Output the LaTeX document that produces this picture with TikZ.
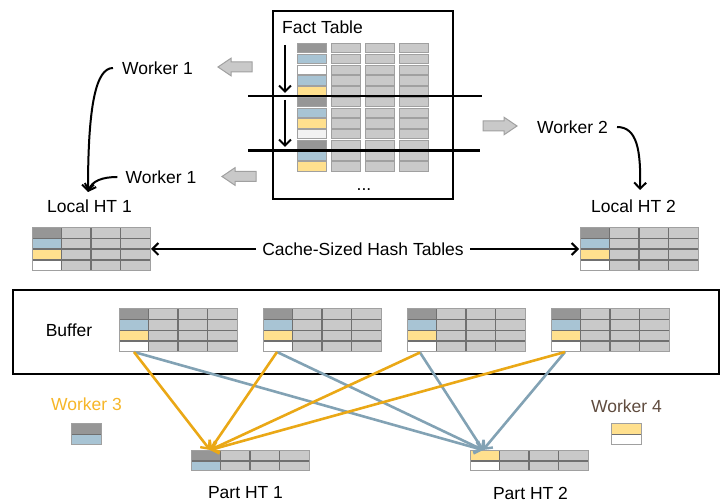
\documentclass[tikz,border=0pt]{standalone}
\usepackage{fontspec}
\setmainfont{Liberation Sans}
\usetikzlibrary{arrows.meta}
\definecolor{cg}{RGB}{201,201,201}
\definecolor{cgb}{RGB}{160,160,160}
\definecolor{cdk}{RGB}{150,150,150}
\definecolor{cbl}{RGB}{168,196,212}
\definecolor{cye}{RGB}{255,224,142}
\definecolor{cwh}{RGB}{255,255,255}
\definecolor{cwhb}{RGB}{242,242,242}
\definecolor{gridc}{RGB}{112,112,112}
\definecolor{lorange}{RGB}{234,168,22}
\definecolor{torange}{RGB}{246,182,40}
\definecolor{lblue}{RGB}{130,162,180}
\definecolor{tbrown}{RGB}{95,75,62}
\tikzset{
  lbl/.style={inner sep=0pt, font=\fontsize{17.5}{20}\selectfont},
  cell/.style={draw=cgb, fill=cg, line width=0.9pt},
  gridl/.style={draw=gridc, line width=1.5pt},
  outerl/.style={draw=cgb, line width=1pt},
  barrow/.style={draw=cgb, fill=cg, line width=1pt},
  carrow/.style={line width=2pt, -{Straight Barb[length=6pt,width=12pt,line width=2pt]}},
  oline/.style={draw=lorange, line width=2.6pt, -{Straight Barb[length=6.5pt,width=12pt,line width=2.4pt]}},
  bline/.style={draw=lblue, line width=2.6pt, -{Straight Barb[length=6.5pt,width=12pt,line width=2.4pt]}},
  frame/.style={draw=black, line width=2pt},
}
% grid table: x, y, rows, row height, first-column colours
\newcommand\gtable[5]{%
  \begin{scope}[shift={(#1,#2)}]
    \foreach \c [count=\r from 0] in {#5} {
      \fill[\c] (0,\r*#4) rectangle ++(29.5,#4);
      \fill[cg] (29.5,\r*#4) rectangle ++(88.5,#4);
    }
    \foreach \k in {1,2,3} \draw[gridl] (\k*29.5,0) -- (\k*29.5,#3*#4);
    \pgfmathtruncatemacro\lastrow{#3-1}
    \foreach \r in {1,...,\lastrow} \draw[gridl] (0,\r*#4) -- (118,\r*#4);
    \draw[outerl] (0,0) rectangle (118,#3*#4);
  \end{scope}}
% small one-column table
\newcommand\stable[4]{%
  \begin{scope}[shift={(#1,#2)}]
    \fill[#3] (0,0) rectangle (30,10.5);
    \fill[#4] (0,10.5) rectangle (30,21);
    \draw[gridl] (0,10.5) -- (30,10.5);
    \draw[outerl] (0,0) rectangle (30,21);
  \end{scope}}
\begin{document}
\begin{tikzpicture}[x=1pt,y=-1pt]
\useasboundingbox (0,0) rectangle (724,502);

% ---------- Fact table ----------
\draw[frame] (273,11) rectangle (453,199);
\node[lbl] (ft) at (322.5,27) {Fact Table};
\foreach \r/\c in {0/cdk,1/cbl,2/cwh,3/cbl,4/cye,5/cdk,6/cbl,7/cye,8/cwhb,9/cdk,10/cbl,11/cye} {
  \path[cell,fill=\c] (297.5,43.5+\r*10.75) rectangle ++(29,9.4);
  \foreach \k in {1,2,3} \path[cell] (297.5+\k*34,43.5+\r*10.75) rectangle ++(29,9.4);
}
\node[lbl,anchor=base] (dots) at (364,191) {...};
\draw[line width=2.4pt] (248,96) -- (482,96);
\draw[line width=2.4pt] (248,150.5) -- (480,150.5);
\coordinate (v1s) at (285,45);  \coordinate (v1e) at (285,93);
\coordinate (v2s) at (285,100); \coordinate (v2e) at (285,147);
\draw[carrow] (v1s) -- (v1e);
\draw[carrow] (v2s) -- (v2e);

% block arrows
\draw[barrow] (218,67) -- ++(13,-8.8) -- ++(0,3.8) -- ++(21,0) -- ++(0,10) -- ++(-21,0) -- ++(0,3.8) -- cycle;
\draw[barrow] (222,176.5) -- ++(13,-8.8) -- ++(0,3.8) -- ++(21,0) -- ++(0,10) -- ++(-21,0) -- ++(0,3.8) -- cycle;
\draw[barrow] (517,126) -- ++(-13,-8.8) -- ++(0,3.8) -- ++(-21,0) -- ++(0,10) -- ++(21,0) -- ++(0,3.8) -- cycle;

% workers
\node[lbl] (w1a) at (157.5,68) {Worker 1};
\node[lbl] (w1b) at (161,177) {Worker 1};
\node[lbl] (w2) at (572.5,127) {Worker 2};
\coordinate (lt1) at (88,192);
\coordinate (lt2) at (640,190);
\draw[carrow] ([xshift=-9pt]w1a.west) .. controls (96,68) and (88,105) .. (lt1);
\draw[carrow] ([xshift=-8pt]w1b.west) .. controls (102,177) and (92,181) .. (lt1);
\draw[carrow] ([xshift=9pt]w2.east) .. controls (637,127) and (641,150) .. (lt2);

% ---------- Local hash tables ----------
\node[lbl] (lht1) at (89.5,206) {Local HT 1};
\node[lbl] (lht2) at (633.5,206) {Local HT 2};
\gtable{32}{228}{4}{10.6}{cdk,cbl,cye,cwh}
\gtable{580}{228}{4}{10.6}{cdk,cbl,cye,cwh}
\node[lbl] (cache) at (363,249) {Cache-Sized Hash Tables};
\coordinate (t1r) at (151,249);
\coordinate (t2l) at (579,249);
\draw[carrow] ([xshift=-6pt]cache.west) -- (t1r);
\draw[carrow] ([xshift=6pt]cache.east) -- (t2l);

% ---------- Buffer ----------
\draw[frame] (13,290) rectangle (719,374);
\node[lbl] (buf) at (69,330) {Buffer};
\gtable{119}{309}{4}{10.75}{cdk,cbl,cye,cwh}
\gtable{263}{309}{4}{10.75}{cdk,cbl,cye,cwh}
\gtable{407}{309}{4}{10.75}{cdk,cbl,cye,cwh}
\gtable{551}{309}{4}{10.75}{cdk,cbl,cye,cwh}
\coordinate (b1) at (134,352);
\coordinate (b2) at (277,352);
\coordinate (b3) at (420,352.5);
\coordinate (b4) at (565,352);

% ---------- Partitioned hash tables ----------
\node[lbl,text=torange] (w3) at (86.5,404) {Worker 3};
\node[lbl,text=tbrown] (w4) at (626.5,406) {Worker 4};
\stable{71}{424}{cdk}{cbl}
\stable{611}{424}{cye}{cwh}
\gtable{191}{451}{2}{10}{cdk,cbl}
\gtable{470}{451}{2}{10}{cye,cwh}
\node[lbl] (p1) at (245.5,493) {Part HT 1};
\node[lbl] (p2) at (530.5,493) {Part HT 2};
\coordinate (pa) at (210,450);
\coordinate (pb) at (483,450);

\foreach \s in {b1,b2,b3,b4} \draw[bline] (\s) -- (pb);
\foreach \s in {b1,b2,b3,b4} \draw[oline] (\s) -- (pa);
\end{tikzpicture}
\end{document}
